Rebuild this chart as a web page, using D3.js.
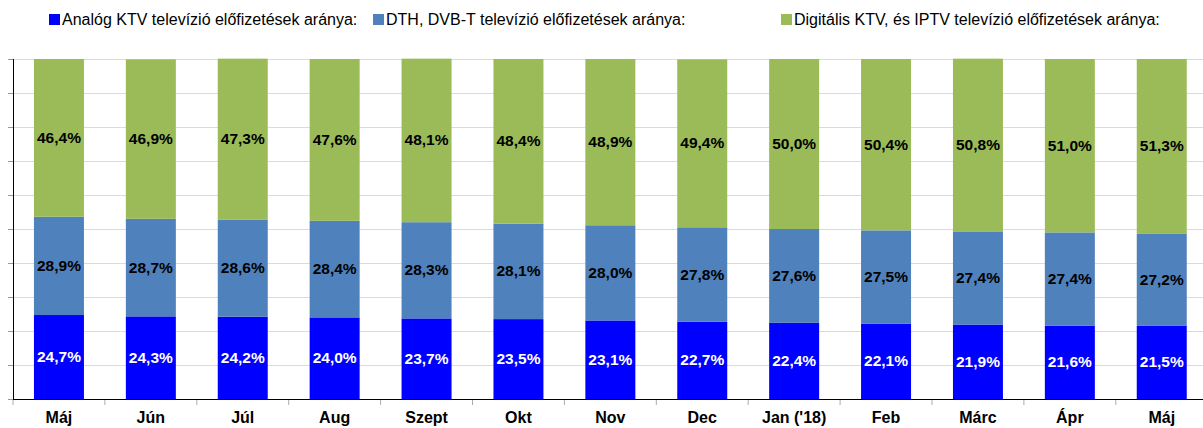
<!DOCTYPE html>
<html>
    <head>
        <meta charset="utf-8">
        <title>Előfizetések aránya</title>
        <script type="text/javascript" src="https://cdn.jsdelivr.net/npm/d3@7"></script>
        <style type="text/css">
            body { margin: 0; background: #fff; }
            text { font-family: Arial, "Liberation Sans", sans-serif; }
            .grid line { stroke: #b7e9f2; stroke-width: 1; }
            .grid path { display: none; }
        </style>
    </head>
    <body>
        <script type="text/javascript">
            // Width and height
            var w = 1203;
            var h = 428;
            var plotLeft = 13, plotTop = 59, plotBottom = 399;
            var step = 91.9;

            // Data
            var months = ["Máj", "Jún", "Júl", "Aug", "Szept", "Okt", "Nov", "Dec", "Jan ('18)", "Feb", "Márc", "Ápr", "Máj"];
            var analog = [24.7, 24.3, 24.2, 24.0, 23.7, 23.5, 23.1, 22.7, 22.4, 22.1, 21.9, 21.6, 21.5];
            var dth = [28.9, 28.7, 28.6, 28.4, 28.3, 28.1, 28.0, 27.8, 27.6, 27.5, 27.4, 27.4, 27.2];
            var digital = [46.4, 46.9, 47.3, 47.6, 48.1, 48.4, 48.9, 49.4, 50.0, 50.4, 50.8, 51.0, 51.3];
            var seriesNames = ["Analóg KTV televízió előfizetések aránya:", "DTH, DVB-T televízió előfizetések aránya:", "Digitális KTV, és IPTV televízió előfizetések aránya:"];
            var colors = ["#0000ff", "#4f81bd", "#9bbb59"];
            var labelColors = ["#fff", "#000", "#000"];

            var rows = months.map(function(m, i) {
                return { key: i, month: m, s0: analog[i], s1: dth[i], s2: digital[i] };
            });

            var layers = d3.stack().keys(["s0", "s1", "s2"])(rows);

            // Scales
            var xScale = d3.scaleBand()
                .domain(d3.range(months.length))
                .range([plotLeft, plotLeft + step * months.length])
                .paddingInner(0.456)
                .paddingOuter(0.228);

            var yScale = d3.scaleLinear()
                .domain([0, 100])
                .range([plotBottom, plotTop]);

            var svg = d3.select("body")
                .append("svg")
                .attr("width", w)
                .attr("height", h);

            // Gridlines
            svg.append("g")
                .attr("class", "grid")
                .attr("transform", "translate(" + plotLeft + ",0)")
                .call(d3.axisLeft(yScale).ticks(10).tickSize(-(w - plotLeft)).tickFormat(""));

            // Left tick marks
            svg.append("g")
                .attr("transform", "translate(" + plotLeft + ",0)")
                .call(d3.axisLeft(yScale).ticks(10).tickSize(5).tickFormat(""))
                .call(function(g) {
                    g.selectAll(".tick line").attr("stroke", "#999");
                    g.select(".domain").remove();
                });

            // Bars
            var layerG = svg.selectAll("g.layer")
                .data(layers)
                .enter()
                .append("g")
                .attr("class", "layer")
                .attr("fill", function(d, i) { return colors[i]; });

            layerG.selectAll("rect")
                .data(function(d) { return d; })
                .enter()
                .append("rect")
                .attr("x", function(d) { return xScale(d.data.key); })
                .attr("y", function(d) { return yScale(d[1]); })
                .attr("width", xScale.bandwidth())
                .attr("height", function(d) { return yScale(d[0]) - yScale(d[1]); });

            // Value labels
            layerG.selectAll("text")
                .data(function(d, i) { return d.map(function(p) { return { p: p, i: i }; }); })
                .enter()
                .append("text")
                .attr("x", function(d) { return xScale(d.p.data.key) + xScale.bandwidth() / 2; })
                .attr("y", function(d) { return yScale((d.p[0] + d.p[1]) / 2) + 5; })
                .attr("text-anchor", "middle")
                .attr("font-size", "15.5px")
                .attr("font-weight", "bold")
                .attr("fill", function(d) { return labelColors[d.i]; })
                .text(function(d) { return (d.p[1] - d.p[0]).toFixed(1).replace(".", ",") + "%"; });

            // Axis lines
            svg.append("line")
                .attr("x1", plotLeft + 0.5).attr("x2", plotLeft + 0.5)
                .attr("y1", plotTop).attr("y2", plotBottom)
                .attr("stroke", "#000");

            svg.append("line")
                .attr("x1", plotLeft).attr("x2", w)
                .attr("y1", plotBottom + 0.5).attr("y2", plotBottom + 0.5)
                .attr("stroke", "#000");

            // Category boundary ticks
            svg.selectAll("line.ctick")
                .data(d3.range(months.length + 1))
                .enter()
                .append("line")
                .attr("class", "ctick")
                .attr("x1", function(d) { return plotLeft + d * step; })
                .attr("x2", function(d) { return plotLeft + d * step; })
                .attr("y1", plotBottom + 1)
                .attr("y2", plotBottom + 6)
                .attr("stroke", "#aaa");

            // Month labels
            svg.selectAll("text.month")
                .data(rows)
                .enter()
                .append("text")
                .attr("class", "month")
                .attr("x", function(d) { return xScale(d.key) + xScale.bandwidth() / 2; })
                .attr("y", 423)
                .attr("text-anchor", "middle")
                .attr("font-size", "16px")
                .attr("font-weight", "bold")
                .text(function(d) { return d.month; });

            // Legend
            var legendX = [49, 373, 781];
            var legend = svg.selectAll("g.legend")
                .data(seriesNames)
                .enter()
                .append("g")
                .attr("class", "legend")
                .attr("transform", function(d, i) { return "translate(" + legendX[i] + ",13)"; });

            legend.append("rect")
                .attr("width", 11)
                .attr("height", 11)
                .attr("y", 1)
                .attr("fill", function(d, i) { return colors[i]; });

            legend.append("text")
                .attr("x", 13)
                .attr("y", 12)
                .attr("font-size", "16px")
                .attr("fill", "#000")
                .text(function(d) { return d; });
        </script>
    </body>
</html>
